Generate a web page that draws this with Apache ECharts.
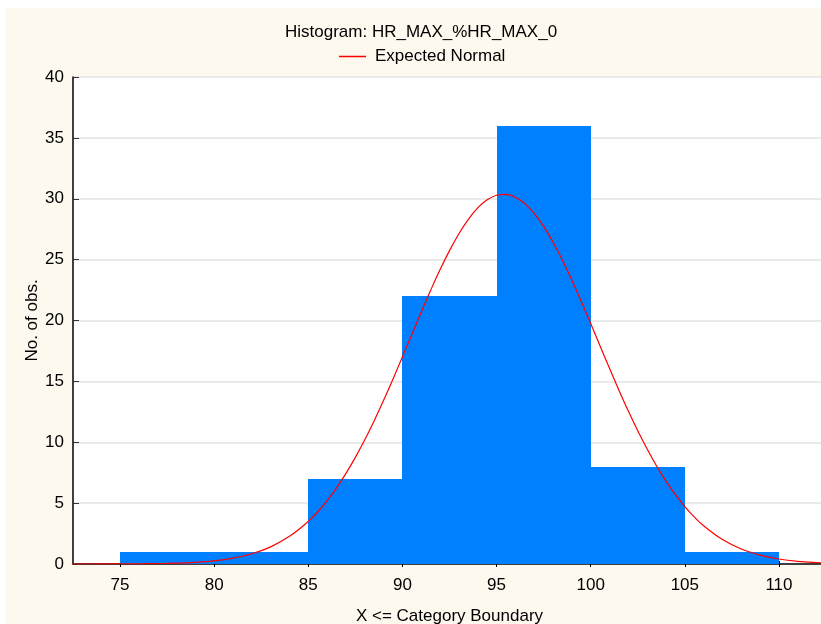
<!DOCTYPE html>
<html>
<head>
<meta charset="utf-8">
<style>
  html, body { margin: 0; padding: 0; background: #ffffff; }
  #chart { width: 821px; height: 624px; }
</style>
<script src="https://cdn.jsdelivr.net/npm/echarts@6/dist/echarts.min.js"></script>
</head>
<body>
<div id="chart"></div>
<script>
// Histogram bin boundaries and observed counts per bin
var binEdges = [75, 80, 85, 90, 95, 100, 105, 110];
var binCounts = [1, 1, 7, 22, 36, 8, 1];

// Expected normal curve (x, expected count)
var curveX = [72, 73, 74, 75, 76, 77, 78, 79, 80, 81, 82, 83, 84, 85, 85.5, 86, 86.5, 87, 87.5,
              88, 88.5, 89, 89.5, 90, 90.5, 91, 91.5, 92, 92.5, 93, 93.5, 94, 94.5, 95, 95.5,
              96, 96.5, 97, 97.5, 98, 98.5, 99, 99.5, 100, 100.5, 101, 101.5, 102, 102.5, 103,
              103.5, 104, 104.5, 105, 105.5, 106, 107, 108, 109, 110, 111, 112, 113];
var curveY = [0.0005, 0.0013, 0.003, 0.007, 0.016, 0.035, 0.07, 0.14, 0.26, 0.48, 0.84, 1.41, 2.27,
              3.50, 4.29, 5.21, 6.26, 7.44, 8.76, 10.2, 11.77, 13.44, 15.2, 17.02, 18.86, 20.7,
              22.48, 24.18, 25.74, 27.13, 28.31, 29.25, 29.91, 30.29, 30.36, 30.13, 29.6, 28.79,
              27.73, 26.43, 24.95, 23.31, 21.56, 19.75, 17.9, 16.07, 14.28, 12.56, 10.94, 9.44,
              8.05, 6.81, 5.69, 4.72, 3.87, 3.14, 2.01, 1.23, 0.73, 0.41, 0.22, 0.12, 0.06];

// Axis tick labels
var xTicks = [75, 80, 85, 90, 95, 100, 105, 110];

var barData = binCounts.map(function (c, i) { return [binEdges[i], binEdges[i + 1], c]; });
var lineData = curveX.map(function (x, i) { return [x, curveY[i]]; });

var font = 'Arial, "Liberation Sans", sans-serif';
var chart = echarts.init(document.getElementById('chart'));

chart.setOption({
  backgroundColor: '#ffffff',
  animation: false,
  textStyle: { fontFamily: font },
  graphic: [{
    type: 'rect', z: -10, silent: true,
    shape: { x: 5, y: 8, width: 816, height: 616 },
    style: { fill: '#fdf9ef' }
  }],
  title: {
    text: 'Histogram: HR_MAX_%HR_MAX_0',
    left: 280, top: 19,
    textStyle: { fontFamily: font, fontSize: 17, fontWeight: 'normal', color: '#000' }
  },
  legend: {
    data: ['Expected Normal'],
    top: 43, left: 334,
    icon: 'rect', itemWidth: 27, itemHeight: 1.5,
    textStyle: { fontFamily: font, fontSize: 17, color: '#000', padding: [0, 0, 0, 4] }
  },
  grid: {
    left: 73, top: 77, width: 753, height: 487,
    outerBoundsMode: 'none',
    show: true, backgroundColor: '#ffffff', borderWidth: 0
  },
  xAxis: [{
    type: 'value', min: 72.5, max: 112.5, position: 'bottom',
    name: 'X <= Category Boundary', nameLocation: 'middle', nameGap: 44,
    nameMoveOverlap: false,
    nameTextStyle: { fontFamily: font, fontSize: 17, color: '#000' },
    axisLine: { onZero: false, lineStyle: { color: '#404040', width: 1.5 } },
    axisTick: { show: true, inside: true, length: 3, customValues: xTicks, lineStyle: { color: '#000' } },
    axisLabel: { customValues: xTicks, margin: 13, fontSize: 17, color: '#000', fontFamily: font },
    splitLine: { show: false }
  }, {
    type: 'value', min: 72.5, max: 112.5, position: 'top',
    axisLine: { show: true, lineStyle: { color: '#303030', width: 1.5 } },
    axisTick: { show: true, inside: true, length: 3, customValues: xTicks, lineStyle: { color: '#000' } },
    axisLabel: { show: false },
    splitLine: { show: false }
  }],
  yAxis: {
    type: 'value', min: 0, max: 40, interval: 5,
    name: 'No. of obs.', nameLocation: 'middle', nameGap: 32, nameRotate: 90,
    nameMoveOverlap: false,
    nameTextStyle: { fontFamily: font, fontSize: 17, color: '#000' },
    axisLine: { show: true, lineStyle: { color: '#000', width: 1.5 } },
    axisTick: { show: true, inside: true, length: 6, lineStyle: { color: '#333' } },
    axisLabel: { margin: 9, fontSize: 17, color: '#000', fontFamily: font },
    splitLine: { show: true, lineStyle: { color: '#e3e3e3', width: 1.5 } }
  },
  series: [{
    name: 'Counts',
    type: 'custom',
    xAxisIndex: 0,
    data: barData,
    renderItem: function (params, api) {
      var p0 = api.coord([api.value(0), api.value(2)]);
      var p1 = api.coord([api.value(1), 0]);
      var x0 = Math.round(p0[0]), x1 = Math.round(p1[0]);
      var y0 = Math.round(p0[1]), y1 = p1[1];
      return {
        type: 'rect',
        shape: { x: x0, y: y0, width: x1 - x0, height: y1 - y0 },
        style: { fill: '#0080ff' }
      };
    },
    encode: { x: [0, 1], y: 2 },
    z: 2
  }, {
    name: 'Expected Normal',
    type: 'line',
    xAxisIndex: 0,
    data: lineData,
    smooth: 0.4,
    showSymbol: false,
    clip: true,
    lineStyle: { color: '#ff0000', width: 1.2 },
    itemStyle: { color: '#ff0000' },
    z: 3
  }]
});
</script>
</body>
</html>
